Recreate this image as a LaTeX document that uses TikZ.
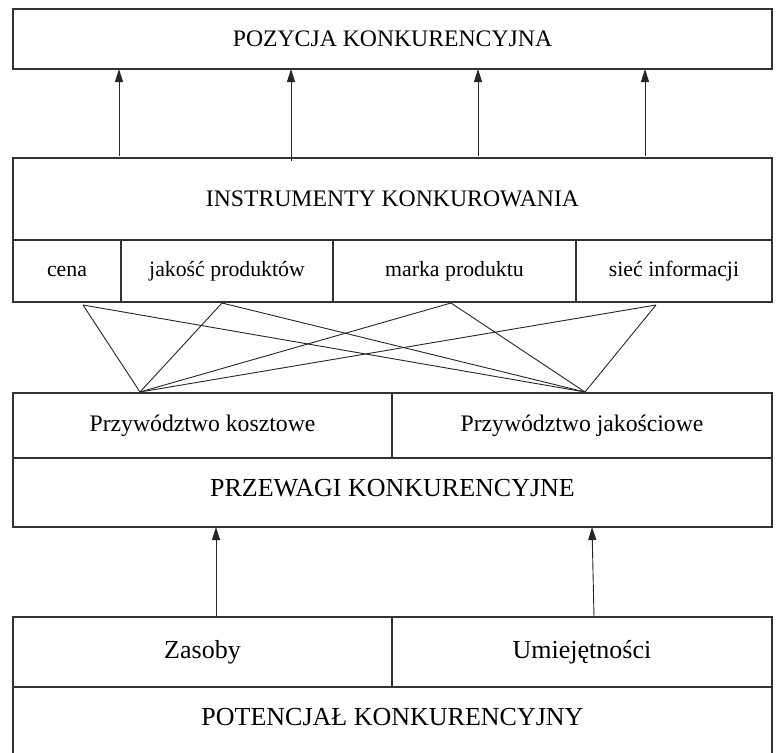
\documentclass[tikz,border=0pt]{standalone}
\usepackage{fontspec}
\setmainfont{Liberation Serif}
\usetikzlibrary{arrows.meta}
\begin{document}
\begin{tikzpicture}[x=1pt,y=-1pt,
  box/.style={draw=black!80, line width=1.3pt, inner sep=0pt, outer sep=0pt, anchor=north west, align=center},
  lbl/.style={inner sep=0pt},
  thinline/.style={draw=black!85, line width=0.9pt},
  arr/.style={thinline, -{Triangle[length=13pt,width=8pt]}},
  big/.style={font=\fontsize{23.7}{28}\selectfont},
  mid/.style={font=\fontsize{26}{30}\selectfont},
  small/.style={font=\fontsize{21.8}{26}\selectfont}]
\useasboundingbox (0,0) rectangle (778,752);
% top
\node[box, big, minimum width=759pt, minimum height=60pt] (poz) at (13,9) {POZYCJA KONKURENCYJNA};
% instruments
\node[box, big, minimum width=759pt, minimum height=82pt] (instr) at (13,158) {INSTRUMENTY KONKUROWANIA};
\node[box, small, minimum width=108pt, minimum height=62pt] (cena) at (13,240) {cena};
\node[box, small, minimum width=212pt, minimum height=62pt] (jak) at (121,240) {jakość produktów};
\node[box, small, minimum width=243pt, minimum height=62pt] (marka) at (333,240) {marka produktu};
\node[box, small, minimum width=196pt, minimum height=62pt] (siec) at (576,240) {sieć informacji};
% arrows to top
\coordinate (a1) at (119,156);
\coordinate (a2) at (291,161);
\coordinate (a3) at (478,156);
\coordinate (a4) at (645,156);
\foreach \a in {a1,a2,a3,a4} \draw[arr] (\a) -- (\a |- poz.south);
% advantages
\node[box, big, minimum width=379pt, minimum height=65pt] (pk) at (13,393) {Przywództwo kosztowe};
\node[box, big, minimum width=380pt, minimum height=65pt] (pj) at (392,393) {Przywództwo jakościowe};
\node[box, minimum width=759pt, minimum height=69pt] (przew) at (13,458) {};
\node[lbl, mid] (przewt) at ([yshift=4.5pt]przew.center) {PRZEWAGI KONKURENCYJNE};
% crossing lines
\coordinate (t1) at (83,305);
\coordinate (t2) at (222,303);
\coordinate (t3) at (451,303);
\coordinate (t4) at (656,305);
\coordinate (b1) at (140,392);
\coordinate (b2) at (585,392);
\foreach \t in {t1,t2,t3,t4} {\draw[thinline] (\t) -- (b1); \draw[thinline] (\t) -- (b2);}
% potential
\node[box, mid, minimum width=379pt, minimum height=70pt] (zas) at (13,617) {Zasoby};
\node[box, mid, minimum width=380pt, minimum height=70pt] (umi) at (392,617) {Umiejętności};
\node[box, minimum width=759pt, minimum height=67pt] (pot) at (13,687) {};
\node[lbl, mid] (pott) at ([yshift=3.5pt]pot.center) {POTENCJAŁ KONKURENCYJNY};
% arrows to advantages
\coordinate (c1) at (216,617);
\coordinate (c2) at (594,617);
\draw[arr] (c1) -- (c1 |- przew.south);
\draw[arr] (c2) -- ([xshift=-2pt]c2 |- przew.south);
\end{tikzpicture}
\end{document}
